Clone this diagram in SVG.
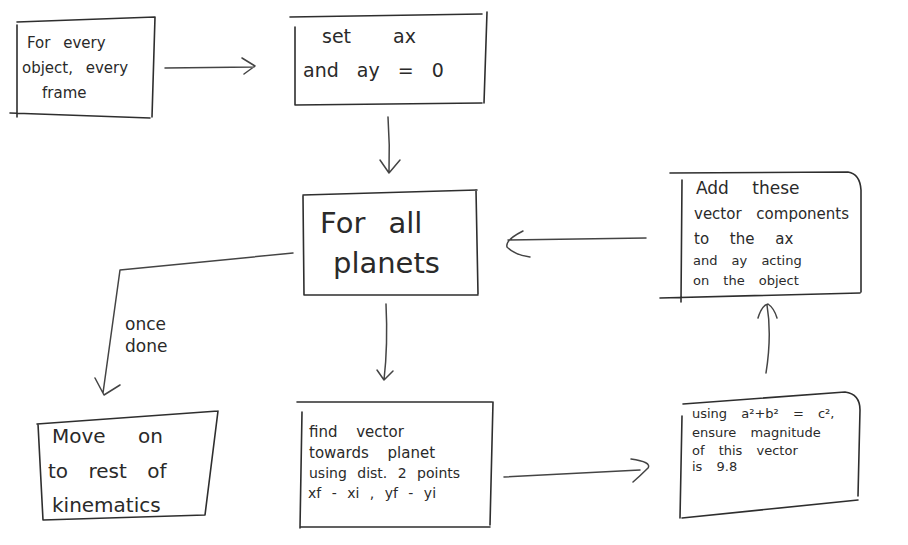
<svg xmlns="http://www.w3.org/2000/svg" width="908" height="545" viewBox="0 0 908 545">
<style>
.b{fill:none;stroke:#2e2e2e;stroke-width:1.6;stroke-linecap:round;stroke-linejoin:round}
.c{fill:none;stroke:#444;stroke-width:1.5;stroke-linecap:round;stroke-linejoin:round}
text{font-family:"DejaVu Sans","Liberation Sans",sans-serif;fill:#2a2a2a;font-weight:normal}
</style>
<rect width="908" height="545" fill="#fff"/>
<g id="n1">
<path class="b" d="M17,22 L155,17 M17,25 L17,117 M10,113 L150,118 M155,17 L152,117"/>
<text font-size="15" word-spacing="8"><tspan x="27" y="48">For every</tspan><tspan x="22" y="73">object, every</tspan><tspan x="42" y="98">frame</tspan></text>
</g>
<g id="n2">
<path class="b" d="M290,17 L482,14 M295,27 L295,105 M295,105 L482,103 M487,12 L484,103"/>
<text font-size="19" word-spacing="36"><tspan x="322" y="43">set ax</tspan></text>
<text font-size="19" word-spacing="12"><tspan x="303" y="77">and ay = 0</tspan></text>
</g>
<g id="n3">
<path class="b" d="M303,195 L477,190 M303,196 L304,295 M304,295 L478,295 M476,190 L478,294"/>
<text font-size="29" word-spacing="14"><tspan x="320" y="233">For all</tspan><tspan x="333" y="273">planets</tspan></text>
</g>
<g id="n4">
<path class="b" d="M670,173 L848,172 Q860,174 861,190 L861,292 M682,180 L681,302 M660,298 L860,293"/>
<text font-size="17" word-spacing="18"><tspan x="696" y="194">Add these</tspan></text>
<text font-size="15" word-spacing="10"><tspan x="694" y="219">vector components</tspan></text>
<text font-size="15" word-spacing="16"><tspan x="694" y="244">to the ax</tspan></text>
<text font-size="13" word-spacing="10"><tspan x="693" y="265">and ay acting</tspan><tspan x="693" y="285">on the object</tspan></text>
</g>
<g id="n5">
<path class="b" d="M37,424 L218,411 M218,411 L205,515 M43,520 L205,515 M38,424 L43,520"/>
<text font-size="20" word-spacing="26"><tspan x="52" y="443">Move on</tspan></text>
<text font-size="20" word-spacing="14"><tspan x="48" y="478">to rest of</tspan><tspan x="52" y="512">kinematics</tspan></text>
</g>
<g id="n6">
<path class="b" d="M297,402 L492,402 M302,412 L300,528 M493,402 L490,525 M300,527 L490,527"/>
<text font-size="15" word-spacing="14"><tspan x="309" y="437">find vector</tspan><tspan x="309" y="458">towards planet</tspan></text>
<text font-size="14" word-spacing="6"><tspan x="309" y="478">using dist. 2 points</tspan><tspan x="308" y="498">xf - xi , yf - yi</tspan></text>
</g>
<g id="n7">
<path class="b" d="M683,404 L845,392 Q860,394 860,410 L858,496 M682,416 L680,518 M682,518 L858,500"/>
<text font-size="13" word-spacing="10"><tspan x="692" y="418">using a²+b² = c²,</tspan><tspan x="692" y="437">ensure magnitude</tspan><tspan x="692" y="455">of this vector</tspan><tspan x="692" y="471">is 9.8</tspan></text>
</g>
<g id="connectors">
<path class="c" d="M165,68 L254,67 M242,58 L255,66 L244,74"/>
<path class="c" d="M388,117 Q390,145 389,173 M380,160 L389,173 L400,160"/>
<path class="c" d="M646,238 L508,240 M523,231 Q505,240 507,247 Q515,255 530,257"/>
<path class="c" d="M386,304 Q388,345 384,380 M377,370 L384,380 L393,371"/>
<path class="c" d="M293,253 L120,270 L103,393 M95,378 L104,395 L120,385"/>
<path class="c" d="M504,477 L640,470 M631,459 Q652,462 648,468 Q640,476 633,482"/>
<path class="c" d="M766,373 Q772,335 767,305 M758,318 Q762,305 768,304 Q774,308 777,318"/>
<text font-size="17" word-spacing="8"><tspan x="125" y="330">once</tspan><tspan x="125" y="352">done</tspan></text>
</g>
</svg>
